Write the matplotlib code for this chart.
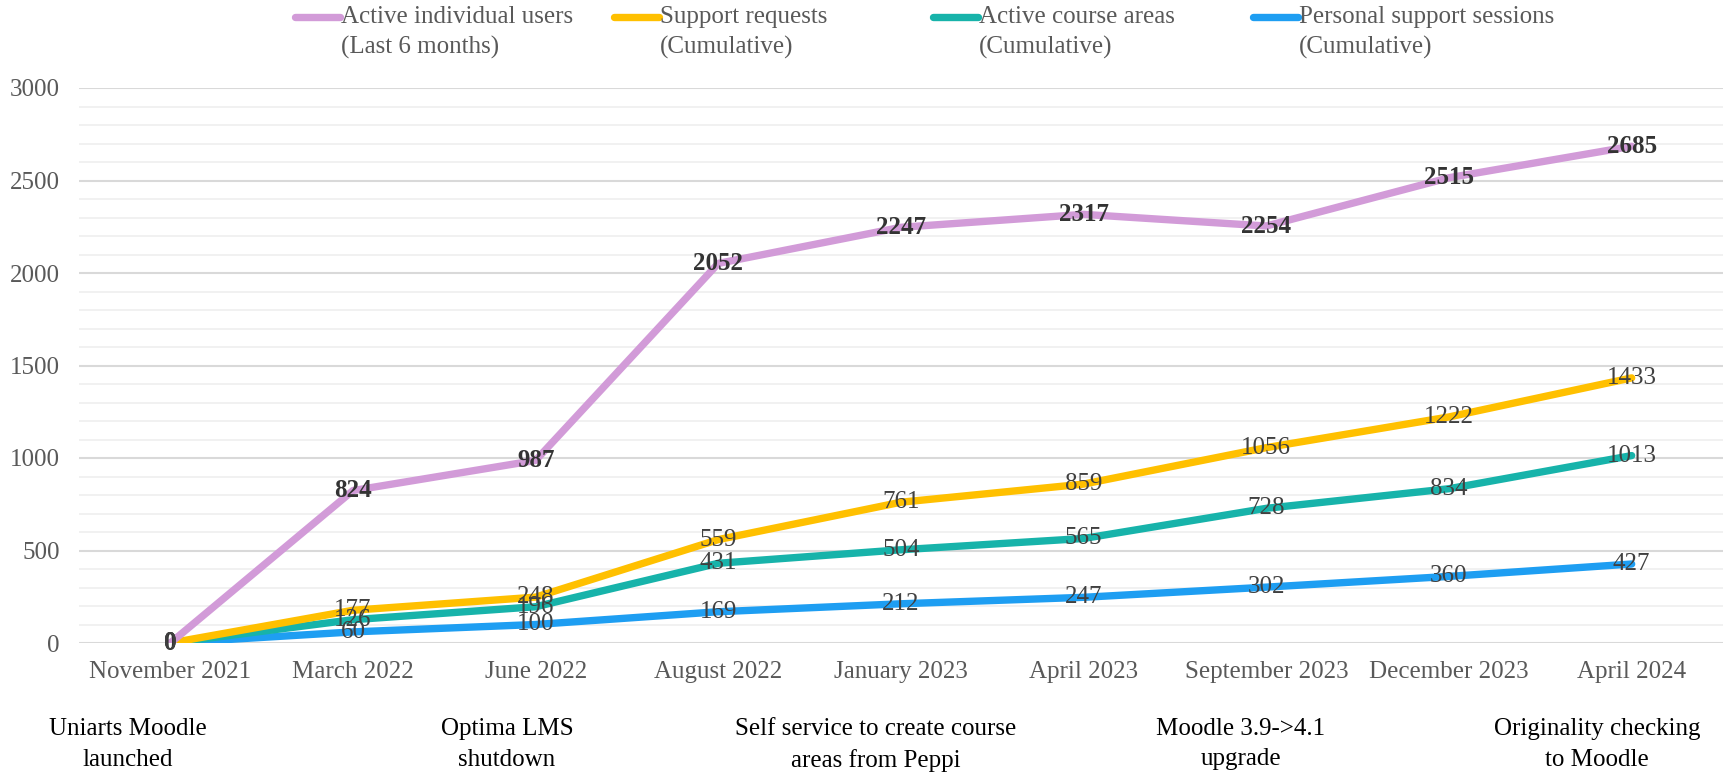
import matplotlib
matplotlib.use("Agg")
import matplotlib.pyplot as plt
from matplotlib.lines import Line2D
from matplotlib.ticker import MultipleLocator

plt.rcParams['font.family'] = ['Liberation Serif', 'DejaVu Serif']

# Data
months = ["November 2021", "March 2022", "June 2022", "August 2022",
          "January 2023", "April 2023", "September 2023", "December 2023",
          "April 2024"]
active_users = [0, 824, 987, 2052, 2247, 2317, 2254, 2515, 2685]
support_requests = [0, 177, 248, 559, 761, 859, 1056, 1222, 1433]
course_areas = [0, 126, 196, 431, 504, 565, 728, 834, 1013]
support_sessions = [0, 60, 100, 169, 212, 247, 302, 360, 427]

series_names = ["Active individual users\n(Last 6 months)",
                "Support requests\n(Cumulative)",
                "Active course areas\n(Cumulative)",
                "Personal support sessions\n(Cumulative)"]
milestones = ["Uniarts Moodle\nlaunched", "Optima LMS\nshutdown",
              "Self service to create course\nareas from Peppi",
              "Moodle 3.9->4.1\nupgrade", "Originality checking\nto Moodle"]

colors = ["#d29bd8", "#ffc000", "#17b3aa", "#1e9ef2"]
all_series = [active_users, support_requests, course_areas, support_sessions]

W, H = 1726, 775
fig = plt.figure(figsize=(W / 100, H / 100), dpi=100)
ax = fig.add_axes([79 / W, 1 - 643 / H, (1723 - 79) / W, (643 - 88) / H])

x = list(range(len(months)))
# draw in reverse order so the purple line sits on top, as in the original
for vals, col in reversed(list(zip(all_series, colors))):
    ax.plot(x, vals, color=col, lw=5.3, solid_capstyle="round", zorder=3)

# data labels, centred on the points
for i, vals in enumerate(all_series):
    bold = (i == 0)
    for xi, v in zip(x, vals):
        ax.text(xi, v, str(v), ha="center", va="center", fontsize=18,
                color="#333333" if bold else "#404040",
                fontweight="bold" if bold else "normal", zorder=5)

ax.set_xlim(-0.5, len(months) - 0.5)
ax.set_ylim(0, 3000)
ax.yaxis.set_major_locator(MultipleLocator(500))
ax.yaxis.set_minor_locator(MultipleLocator(100))
ax.grid(True, which="major", axis="y", color="#d9d9d9", lw=1.5, zorder=0)
ax.grid(True, which="minor", axis="y", color="#f0f0f0", lw=1.3, zorder=0)
ax.set_xticks(x)
ax.set_xticklabels(months)
ax.tick_params(axis="both", which="both", length=0, labelsize=18,
               labelcolor="#595959")
ax.tick_params(axis="x", pad=13)
ax.tick_params(axis="y", pad=14)
for s in ax.spines.values():
    s.set_visible(False)

# legend drawn by hand: handle next to the first line of each label
handle_x = [295, 614, 933, 1253]
for hx, name, col in zip(handle_x, series_names, colors):
    fig.add_artist(Line2D([hx / W, (hx + 45) / W], [1 - 17 / H, 1 - 17 / H],
                          transform=fig.transFigure, color=col, lw=5.3,
                          solid_capstyle="round"))
    fig.text((hx + 46) / W, 1 - 6 / H, name, ha="left", va="top",
             fontsize=18, color="#595959", linespacing=1.45)

# milestone notes under the axis
note_x = [128, 507, 876, 1241, 1597]
for nx, txt in zip(note_x, milestones):
    fig.text(nx / W, 1 - 718 / H, txt, ha="center", va="top",
             fontsize=18, color="black", linespacing=1.5)

fig.savefig("out.png", dpi=100)
